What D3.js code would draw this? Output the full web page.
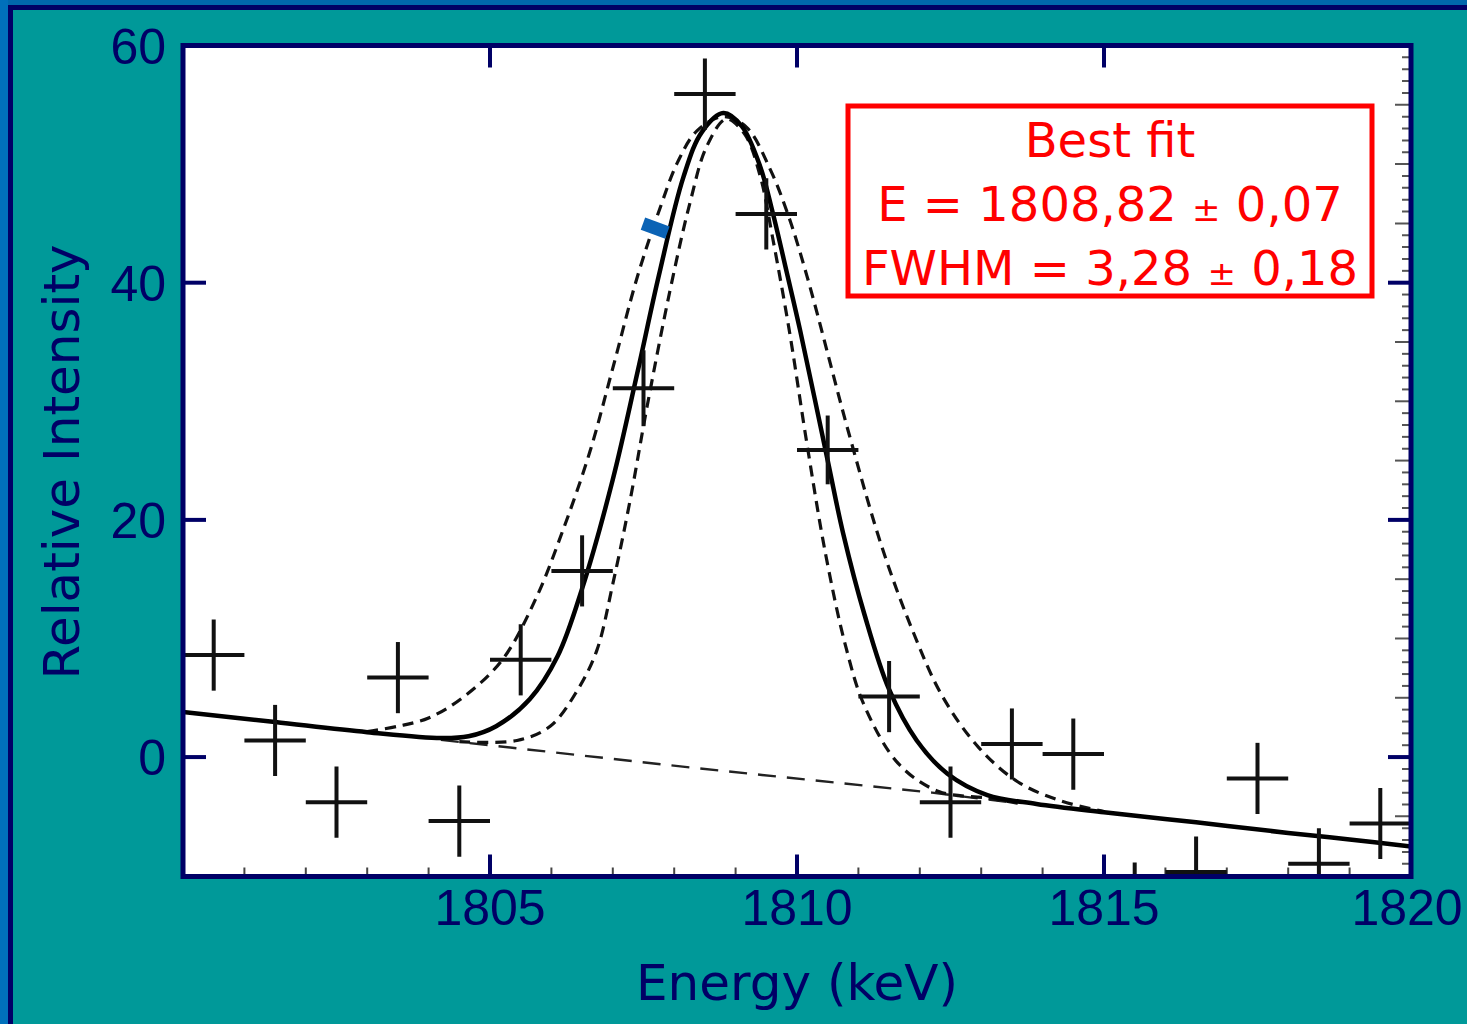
<!DOCTYPE html>
<html lang="en">
<head>
<meta charset="utf-8"/>
<title>Best fit 1809 keV line</title>
<script src="https://d3js.org/d3.v7.min.js"></script>
<style>
  body { margin: 0; background: #009999; }
  .tick-label { font-family: "Liberation Sans", Arial, sans-serif; font-size: 50px; fill: #000066; }
  .title { font-family: "DejaVu Sans", sans-serif; font-size: 50px; fill: #000066; }
  .fit-text { font-family: "DejaVu Sans", sans-serif; font-size: 48px; fill: #ff0000; }
</style>
</head>
<body>
<svg id="chart" width="1467" height="1024"></svg>
<script>
// measured spectrum (bin centres, counts, errors)
var energies = [1800.5, 1801.5, 1802.5, 1803.5, 1804.5, 1805.5, 1806.5, 1807.5, 1808.5, 1809.5,
                1810.5, 1811.5, 1812.5, 1813.5, 1814.5, 1815.5, 1816.5, 1817.5, 1818.5, 1819.5];
var counts = [8.6, 1.4, -3.8, 6.7, -5.4, 8.2, 15.7, 31.1, 55.9, 45.8,
              25.9, 5.1, -3.8, 1.1, 0.25, -11.9, -9.7, -1.8, -9.0, -5.6];
var errors = [3.0, 3.0, 3.0, 3.0, 3.0, 3.0, 3.0, 3.2, 3.0, 3.0,
              2.9, 3.0, 3.0, 3.0, 3.0, 3.0, 3.0, 3.0, 3.0, 3.0];
var binHalf = 0.5;

// best fit curve
var fitE = [1800, 1801.5, 1803, 1804.2, 1804.65, 1805.1, 1805.65, 1806.1, 1806.5, 1807.0,
            1807.4, 1807.75, 1808.15, 1808.45, 1808.8, 1809.1, 1809.4, 1809.6, 1809.85, 1810.05,
            1810.5, 1810.75, 1811.1, 1811.5, 1811.95, 1812.45, 1813.1, 1813.9, 1815, 1816.5,
            1818, 1819, 1820];
var fitV = [3.8, 2.95, 2.1, 1.6, 1.75, 2.6, 4.9, 8.5, 14.2, 23.4,
            32.4, 40.6, 48.9, 52.7, 54.3, 53.2, 49.8, 46.0, 40.5, 36.0,
            25.0, 18.9, 12.0, 5.7, 1.4, -1.4, -3.2, -3.95, -4.65, -5.5,
            -6.4, -6.95, -7.55];

// wider and narrower fit envelopes
var outerE = [1803.0, 1803.5, 1804.0, 1804.55, 1805.2, 1805.75, 1806.2, 1806.63, 1807.0, 1807.4,
              1807.77, 1808.05, 1808.37, 1808.8, 1809.18, 1809.56, 1809.85, 1810.16, 1810.85, 1811.39,
              1811.88, 1812.36, 1812.96, 1813.6, 1814.3, 1815.0];
var outerV = [2.15, 2.6, 3.3, 5.0, 8.2, 13.4, 19.3, 25.8, 32.8, 40.5,
              46.3, 50.1, 52.8, 54.0, 53.1, 49.6, 45.8, 40.6, 27.2, 17.6,
              10.7, 5.2, 0.8, -2.1, -3.7, -4.6];
var innerE = [1804.5, 1805.44, 1805.98, 1806.42, 1806.74, 1807.0, 1807.28, 1807.56, 1807.93, 1808.26,
              1808.53, 1808.85, 1809.15, 1809.4, 1809.61, 1809.88, 1810.15, 1810.47, 1810.8, 1811.1,
              1811.66, 1812.31, 1813.1, 1813.6];
var innerV = [1.3, 1.4, 2.6, 5.6, 9.0, 14.6, 21.6, 29.6, 39.3, 46.8,
              51.5, 53.8, 52.5, 49.0, 43.6, 35.8, 26.8, 17.0, 9.2, 4.3,
              -0.6, -2.9, -3.45, -3.9];

// background line
var bgE = [1804.2, 1808.3, 1812.2, 1813.6];
var bgV = [1.45, -0.9, -3.0, -3.9];

// small blue marker left on the scan
var markE = [1807.69];
var markV = [44.6];

var xTicks = [1805, 1810, 1815, 1820];
var yTicks = [0, 20, 40, 60];
var fitLines = ["Best fit", "E = 1808,82 \u00b1 0,07", "FWHM = 3,28 \u00b1 0,18"];

var svg = d3.select("#chart");
var W = 1467, H = 1024;
var pLeft = 183, pRight = 1411, pTop = 45.5, pBottom = 876.5;

var x = d3.scaleLinear().domain([1800, 1820]).range([pLeft, pRight]);
var y = d3.scaleLinear().domain([-10.07, 60]).range([pBottom, pTop]);

// slide background with border
svg.append("rect").attr("width", W).attr("height", H).attr("fill", "#009999");
svg.append("rect").attr("width", W).attr("height", 5).attr("fill", "#0068ad");
svg.append("rect").attr("width", 8).attr("height", H).attr("fill", "#0070bb");
svg.append("rect").attr("x", 8).attr("y", 5).attr("width", W).attr("height", 5).attr("fill", "#000066");
svg.append("rect").attr("x", 8).attr("y", 5).attr("width", 5).attr("height", H).attr("fill", "#000066");

// plot area
svg.append("rect").attr("x", pLeft).attr("y", pTop)
  .attr("width", pRight - pLeft).attr("height", pBottom - pTop).attr("fill", "#fff");

svg.append("clipPath").attr("id", "clip")
  .append("rect").attr("x", pLeft).attr("y", pTop)
  .attr("width", pRight - pLeft).attr("height", pBottom - pTop);

var g = svg.append("g").attr("clip-path", "url(#clip)");

// minor ticks from the original plot
var minorX = d3.range(1801, 1820).filter(function(d) { return d % 5 !== 0; });
g.selectAll(".mx").data(minorX).enter().append("line")
  .attr("x1", x).attr("x2", x)
  .attr("y1", pBottom).attr("y2", pBottom - 9)
  .attr("stroke", "#444").attr("stroke-width", 2);
var minorY = d3.range(-10, 60).filter(function(d) { return d % 20 !== 0; });
g.selectAll(".my").data(minorY).enter().append("line")
  .attr("x1", function(d) { return d % 5 === 0 ? pRight - 16 : pRight - 9; })
  .attr("x2", pRight)
  .attr("y1", y).attr("y2", y)
  .attr("stroke", "#555").attr("stroke-width", 2);

function zip(a, b) { return a.map(function(d, i) { return [d, b[i]]; }); }

var smooth = d3.line()
  .x(function(d) { return x(d[0]); })
  .y(function(d) { return y(d[1]); })
  .curve(d3.curveCatmullRom.alpha(0.5));
var straight = d3.line()
  .x(function(d) { return x(d[0]); })
  .y(function(d) { return y(d[1]); });

// background (dashed straight)
g.append("path")
  .datum(zip(bgE, bgV))
  .attr("d", straight)
  .attr("fill", "none").attr("stroke", "#222").attr("stroke-width", 2.4)
  .attr("stroke-dasharray", "18,11");

// envelopes
[zip(outerE, outerV), zip(innerE, innerV)].forEach(function(pts) {
  g.append("path")
    .datum(pts)
    .attr("d", smooth)
    .attr("fill", "none").attr("stroke", "#111").attr("stroke-width", 3.2)
    .attr("stroke-dasharray", "11,7");
});

// best fit
g.append("path")
  .datum(zip(fitE, fitV))
  .attr("d", smooth)
  .attr("fill", "none").attr("stroke", "#000").attr("stroke-width", 4.5);

// data crosses
var pts = g.selectAll(".pt").data(energies).enter().append("g");
pts.append("line")
  .attr("x1", function(d) { return x(d - binHalf); })
  .attr("x2", function(d) { return x(d + binHalf); })
  .attr("y1", function(d, i) { return y(counts[i]); })
  .attr("y2", function(d, i) { return y(counts[i]); })
  .attr("stroke", "#111").attr("stroke-width", 4);
pts.append("line")
  .attr("x1", x).attr("x2", x)
  .attr("y1", function(d, i) { return y(counts[i] - errors[i]); })
  .attr("y2", function(d, i) { return y(counts[i] + errors[i]); })
  .attr("stroke", "#111").attr("stroke-width", 4);

// blue marker
g.selectAll(".mark").data(markE).enter().append("rect")
  .attr("x", -13).attr("y", -6.5).attr("width", 26).attr("height", 13)
  .attr("fill", "#0b63b5")
  .attr("transform", function(d, i) { return "translate(" + x(d) + "," + y(markV[i]) + ") rotate(20)"; });

// fit result box
var box = svg.append("g");
box.append("rect").attr("x", 848).attr("y", 106).attr("width", 524).attr("height", 190)
  .attr("fill", "#fff").attr("stroke", "#ff0000").attr("stroke-width", 5);
box.selectAll("text").data(fitLines).enter().append("text")
  .attr("class", "fit-text")
  .attr("x", 1110)
  .attr("y", function(d, i) { return 157 + i * 64; })
  .attr("text-anchor", "middle")
  .each(function(d) {
    var parts = d.split("\u00b1");
    var t = d3.select(this);
    t.append("tspan").text(parts[0]);
    if (parts.length > 1) {
      t.append("tspan").attr("font-size", "34px").text("\u00b1");
      t.append("tspan").text(parts[1]);
    }
  });

// frame and major ticks
var navy = "#000066";
svg.append("rect").attr("x", pLeft).attr("y", pTop)
  .attr("width", pRight - pLeft).attr("height", pBottom - pTop)
  .attr("fill", "none").attr("stroke", navy).attr("stroke-width", 5);

var majX = xTicks.filter(function(d) { return d < 1820; });
svg.selectAll(".tb").data(majX).enter().append("line")
  .attr("x1", x).attr("x2", x).attr("y1", pBottom).attr("y2", pBottom - 22)
  .attr("stroke", navy).attr("stroke-width", 4);
svg.selectAll(".tt").data(majX).enter().append("line")
  .attr("x1", x).attr("x2", x).attr("y1", pTop).attr("y2", pTop + 22)
  .attr("stroke", navy).attr("stroke-width", 4);
var majY = yTicks.filter(function(d) { return d < 60; });
svg.selectAll(".tl").data(majY).enter().append("line")
  .attr("x1", pLeft).attr("x2", pLeft + 23).attr("y1", y).attr("y2", y)
  .attr("stroke", navy).attr("stroke-width", 4);
svg.selectAll(".tr").data(majY).enter().append("line")
  .attr("x1", pRight).attr("x2", pRight - 23).attr("y1", y).attr("y2", y)
  .attr("stroke", navy).attr("stroke-width", 4);

// tick labels
svg.selectAll(".xl").data(xTicks).enter().append("text")
  .attr("class", "tick-label")
  .attr("x", function(d) { return d === 1820 ? x(d) - 4 : x(d); })
  .attr("y", 925)
  .attr("text-anchor", "middle")
  .text(function(d) { return d; });
svg.selectAll(".yl").data(yTicks).enter().append("text")
  .attr("class", "tick-label")
  .attr("x", 166)
  .attr("y", function(d) { return y(d) + 18; })
  .attr("text-anchor", "end")
  .text(function(d) { return d; });

// axis titles
svg.append("text").attr("class", "title")
  .attr("x", 797).attr("y", 1000)
  .attr("text-anchor", "middle")
  .text("Energy (keV)");
svg.append("text").attr("class", "title")
  .attr("transform", "translate(79,462) rotate(-90)")
  .attr("text-anchor", "middle")
  .text("Relative Intensity");
</script>
</body>
</html>
